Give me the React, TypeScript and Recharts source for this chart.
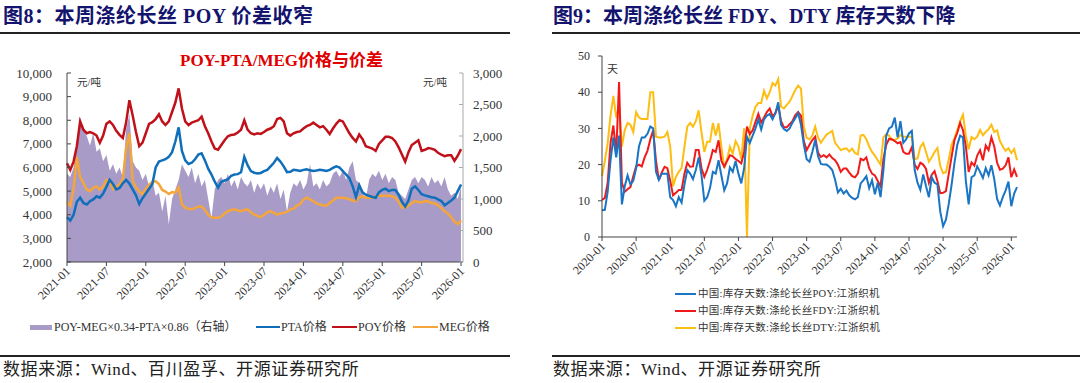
import React from 'react';
import { ComposedChart, LineChart, Line, Area, XAxis, YAxis } from 'recharts';

const SERIF = '"Liberation Serif", "Noto Sans CJK SC", serif';

// 图8：POY-PTA/MEG价格与价差，2021-01 起每半月一个点
const priceTicks = [0, 6, 12, 18, 24, 30, 36, 42, 48, 54, 60];
const priceTickLabels = ['2021-01', '2021-07', '2022-01', '2022-07', '2023-01', '2023-07', '2024-01', '2024-07', '2025-01', '2025-07', '2026-01'];
const priceLeftTicks = [2000, 3000, 4000, 5000, 6000, 7000, 8000, 9000, 10000];
const spreadTicks = [0, 500, 1000, 1500, 2000, 2500, 3000];

const poyPrice = [
  6180, 5900, 6250, 6900, 7950, 7600, 7450, 7500, 7450, 7350,
  7050, 7350, 7850, 7950, 7800, 7550, 7380, 7250, 7900, 8850,
  8200, 7500, 6900, 7050, 7450, 7850, 7920, 8050, 8250, 7950,
  7800, 7950, 8350, 8750, 9350, 8500, 7950, 7800, 7900, 7950,
  8000, 8150, 7750, 7450, 7100, 6800, 6750, 6950, 7150, 7320,
  7380, 7400, 7480, 7600, 8000, 7600, 7450, 7400, 7450, 7420,
  7500, 7600, 7650, 7750, 8050, 8100, 7950, 7450, 7350, 7450,
  7500, 7530, 7650, 7750, 7800, 7900, 7800, 7700, 7750, 7600,
  7420, 7650, 7850, 8000, 7950, 7700, 7450, 7250, 7100, 7400,
  7200, 6900, 6850, 6800, 6700, 7000, 7150, 7300, 7300, 7250,
  7100, 6850, 6550, 6250, 6650, 6950, 7050, 7150, 6700, 6750,
  6820, 6800, 6750, 6620, 6540, 6480, 6520, 6520, 6280, 6500,
  6780,
];
const ptaPrice = [
  3900, 3750, 4000, 4550, 4720, 4500, 4430, 4570, 4650, 4780,
  4720, 4900, 5180, 5480, 5300, 5070, 5130, 5330, 5480, 5320,
  5070, 4820, 4450, 4700, 4900, 5100, 5300, 6000, 6250, 6300,
  6350, 6450, 6650, 7100, 7700, 6700, 6300, 6150, 6200, 6350,
  6550, 6600, 6300, 5950, 5700, 5400, 5150, 5400, 5450, 5500,
  5650, 5700, 5720, 5800, 6450, 6100, 5850, 5780, 5750, 5770,
  5850, 5900, 6050, 6200, 6400, 6250, 6050, 5800, 5820, 5900,
  5880, 5850, 5900, 5920, 5880, 5850, 5870, 5900, 5880, 5850,
  5900, 5980, 6050, 6000, 5850, 5700, 5550, 5200, 4750, 5250,
  4950, 4850, 4800, 4750, 4720, 4950, 5050, 5100, 5000, 5050,
  5050, 4850, 4550, 4350, 4600, 5100, 5200, 5050, 4870, 4820,
  4780, 4740, 4720, 4650, 4580, 4400, 4500, 4600, 4720, 5000,
  5280,
];
const megPrice = [
  4550, 4380, 5100, 6450, 5600, 5350, 5070, 5000, 5140, 5200,
  5070, 5200, 5480, 5420, 5080, 5200, 5280, 5520, 6800, 7450,
  5450, 5150, 5000, 4860, 5100, 5270, 5400, 5420, 5300, 5050,
  4980, 4880, 4960, 4930, 5150, 4450, 4300, 4250, 4230, 4280,
  4350, 4350, 4200, 4000, 3880, 3870, 3870, 3930, 4050, 4150,
  4200, 4230, 4180, 4150, 4200, 4230, 4100, 4000, 3950, 3900,
  4000, 4100, 4150, 4080, 4000, 4050, 4080, 4120, 4230, 4250,
  4400, 4450, 4650, 4720, 4650, 4580, 4480, 4430, 4400, 4380,
  4500, 4600, 4720, 4720, 4720, 4700, 4650, 4600, 4580, 4750,
  4780, 4720, 4720, 4720, 4760, 4800, 4800, 4800, 4800, 4780,
  4720, 4550, 4300, 4320, 4380, 4500, 4580, 4540, 4520, 4580,
  4560, 4500, 4480, 4400, 4280, 4150, 4050, 3900, 3700, 3600,
  3750,
];
const spreadValue = [
  1400, 1350, 1500, 1900, 2300, 2100, 2000, 1850, 2050, 1750,
  1800, 1600, 1700, 1450, 1550, 1400, 1500, 1350, 2100, 2350,
  1600, 1500, 1450, 1300, 1400, 1200, 1300, 1050, 1100, 800,
  1050, 600, 1000, 1150, 1300, 1550, 1450, 1350, 1500, 1250,
  1400, 1200, 1300, 1000, 700, 1150, 1300, 1350, 1250, 1400,
  1200, 1300, 1150, 1350, 1250, 1200, 1300, 1100, 1250, 1150,
  1250, 1050, 1200, 1100, 1250, 1000, 1150, 800, 1100, 1250,
  1200, 1300, 1150, 1250, 1550, 1200, 1250, 1150, 1300, 1200,
  1250, 1400, 1450, 1350, 1450, 1300, 1500, 1600, 1300, 1250,
  1100, 1000, 1300, 1400, 1350, 1450, 1300, 1400, 1250, 1350,
  1300, 1100, 1050, 1000, 1150, 1300, 1350, 1250, 1350, 1300,
  1200, 1350, 1250, 1300, 1200, 1350, 1150, 1050, 1100, 1000,
  1200,
];

// 图9：涤纶长丝库存天数，2020-01 起每半月一个点
const stockTicks = [0, 6, 12, 18, 24, 30, 36, 42, 48, 54, 60, 66, 72];
const stockTickLabels = ['2020-01', '2020-07', '2021-01', '2021-07', '2022-01', '2022-07', '2023-01', '2023-07', '2024-01', '2024-07', '2025-01', '2025-07', '2026-01'];
const dayTicks = [0, 10, 20, 30, 40, 50];

const poyDays = [
  7.4, 7.5, 12.5, 21.2, 27.5, 22, 28, 9, 14, 17,
  14.5, 15.5, 19, 25, 27.5, 27.5, 28.5, 30.5, 30, 18,
  15.8, 17.5, 17.5, 17.5, 11, 10.2, 8.5, 11, 9.5, 14.5,
  18.5, 17.5, 16, 18.5, 22, 17, 10, 11, 13.5, 18,
  17.5, 21.2, 17, 12.9, 14.8, 19.2, 18, 21, 17.5, 14.8,
  19, 27.7, 26, 28, 30, 32.5, 29.7, 32.5, 33.5, 34,
  32.5, 34.2, 37.2, 31, 29.8, 29.3, 30, 31.6, 32.8, 34.2,
  31, 25.5, 21.5, 20.8, 23.5, 26.8, 22.4, 20.2, 20, 20,
  19.4, 18.5, 15.8, 12.3, 13.3, 12, 12.8, 11.5, 10.8, 10.4,
  11, 14.8, 15.7, 16.8, 13.5, 15.7, 11.8, 15, 11, 18.5,
  28, 30, 30.5, 33, 27.5, 32, 26, 27, 28.6, 29.3,
  18.5, 15, 13, 17.3, 14, 11, 16.5, 15, 14.5, 7,
  3, 4.8, 9.2, 14.5, 20.5, 25.5, 28, 27.5, 15.5, 9,
  16.5, 17, 19.5, 18, 16.3, 19, 17, 19.8, 16, 10.5,
  8.7, 11, 12.9, 15.3, 8.5, 12, 13.8,
];
const fdyDays = [
  10.2, 10.8, 15, 26, 30.8, 23, 42.8, 15, 12.5, 13.2,
  13.8, 16.8, 19.5, 20, 19.5, 22, 23.8, 27, 29.5, 21,
  15.7, 17.8, 19.4, 19, 15.5, 11.5, 12.2, 13, 13, 17.5,
  20.5, 19.4, 19.5, 24, 24, 19, 16.6, 18.5, 21, 24,
  23.5, 26.7, 21, 19.4, 21, 22.6, 22.3, 21.5, 21, 20.3,
  23.5, 30.5, 28.4, 29.5, 31.8, 34, 31.6, 33, 34.5, 35.5,
  33.3, 34.2, 36.3, 32, 30.3, 30.3, 31.2, 32, 33.7, 34.5,
  33.5, 26.5, 24, 25.5, 26.8, 27.7, 23.3, 22.1, 22.6, 22,
  22.8, 21.8, 21.2, 20, 18, 18.9, 18.9, 17.8, 16.8, 16.5,
  17.5, 21.6, 21.2, 22, 19, 17.5, 17, 15.5, 14, 21.5,
  25.5, 27.1, 27, 26.5, 25.9, 26.2, 23.5, 23, 23, 24.8,
  20, 18.8, 20.5, 20, 18.8, 15, 17.2, 18.2, 15.5, 12.1,
  12.2, 12.7, 17.5, 22.2, 26.8, 28.8, 31.5, 29.5, 25, 18,
  20.6, 19.7, 22.5, 24, 21.2, 25.3, 24, 27.5, 25, 20.5,
  18.6, 18.9, 19.8, 22, 16.5, 18.7, 16.6,
];
const dtyDays = [
  16.8, 21, 26, 33.5, 39, 33, 36, 25, 29.5, 31.5,
  31, 29, 34.5, 33, 32.6, 32.6, 32.6, 40, 40, 27.7,
  27.5, 27.5, 27.7, 29, 25, 14, 16.6, 18, 19, 24.9,
  30.5, 31.5, 30.5, 32, 35, 29, 23.5, 26.3, 26.3, 31.5,
  28, 31.4, 25, 19, 21.5, 24.9, 23, 26.5, 25, 21.5,
  30, 0, 30, 33.5, 36, 37, 37, 40.4, 38.3, 40,
  42.5, 41.8, 43.6, 36, 35.5, 36.5, 37.4, 39, 40.6, 41.8,
  41, 30.5, 27.4, 27, 28, 30.5, 27.5, 26, 27.2, 28.3,
  28.8, 29.3, 26, 25, 24, 24.3, 24.5, 23.6, 24.4, 23.2,
  22.8, 28, 28.2, 27, 25, 23.5, 22.5, 21.2, 20, 27.5,
  28.4, 28, 26.8, 26.8, 27.2, 28.2, 27.7, 27.7, 27.7, 27.7,
  21.5, 21.7, 24.9, 26, 23.5, 20.8, 22, 23.5, 24.6, 19.6,
  17.6, 17.9, 21.5, 25.5, 27.3, 29.6, 32, 33.8, 28, 24.2,
  27.6, 27, 27.7, 29.6, 28.1, 29, 29.8, 31, 29, 29.5,
  26.5, 25, 23.8, 24.5, 23.2, 24.3, 21.2,
];

const priceData = poyPrice.map((poy, i) => ({
  m: i * 0.5,
  poy,
  pta: ptaPrice[i],
  meg: megPrice[i],
  spread: spreadValue[i],
}));
const stockData = poyDays.map((poy, i) => ({ m: i * 0.5, poy, fdy: fdyDays[i], dty: dtyDays[i] }));

// 坐标轴刻度
const makeDateTick = (ticks: number[], labels: string[]) => (props: any) => {
  const { x, y, payload } = props;
  const label = labels[ticks.indexOf(payload.value)];
  const tx = x + 4;
  const ty = y + 10;
  return (
    <g>
      <line x1={x} x2={x} y1={y} y2={y + 4} stroke="#444" />
      <text x={tx} y={ty} textAnchor="end" fontSize={12} fill="#333" fontFamily={SERIF} transform={`rotate(-45 ${tx} ${ty})`}>
        {label}
      </text>
    </g>
  );
};
const PriceDateTick = makeDateTick(priceTicks, priceTickLabels);
const StockDateTick = makeDateTick(stockTicks, stockTickLabels);

const PriceLeftTick = (props: any) => {
  const { x, y, payload } = props;
  return (
    <g>
      <line x1={x} x2={x + 4} y1={y} y2={y} stroke="#444" />
      <text x={x - 15} y={y} dy="0.35em" textAnchor="end" fontSize={13} fill="#333" fontFamily={SERIF}>
        {payload.value.toLocaleString('en-US')}
      </text>
    </g>
  );
};
const SpreadTick = (props: any) => {
  const { x, y, payload } = props;
  return (
    <g>
      <line x1={x - 4} x2={x} y1={y} y2={y} stroke="#aaa" />
      <text x={x + 10} y={y} dy="0.35em" textAnchor="start" fontSize={13} fill="#333" fontFamily={SERIF}>
        {payload.value.toLocaleString('en-US')}
      </text>
    </g>
  );
};
const DayTick = (props: any) => {
  const { x, y, payload } = props;
  return (
    <g>
      <line x1={x - 4} x2={x} y1={y} y2={y} stroke="#444" />
      <text x={x - 12} y={y} dy="0.35em" textAnchor="end" fontSize={12} fill="#333" fontFamily={SERIF}>
        {payload.value}
      </text>
    </g>
  );
};

const abs = (left: number, top: number, extra: React.CSSProperties = {}): React.CSSProperties => ({
  position: 'absolute',
  left,
  top,
  whiteSpace: 'nowrap',
  ...extra,
});

export default function App() {
  return (
    <div style={{ position: 'absolute', left: 0, top: 0, width: 1080, height: 383, background: '#fff', overflow: 'hidden', fontFamily: SERIF }}>
      {/* 图8 */}
      <div style={abs(0, 0)}>
        <ComposedChart width={540} height={330} data={priceData} margin={{ top: 73, right: 0, bottom: 0, left: 0 }}>
          <XAxis dataKey="m" type="number" domain={[0, 60.3]} ticks={priceTicks} interval={0} height={68}
            tickSize={0} tickMargin={0} tickLine={false} axisLine={{ stroke: '#444' }} tick={PriceDateTick} />
          <YAxis yAxisId="left" width={67} domain={[2000, 10000]} ticks={priceLeftTicks} interval={0}
            tickSize={0} tickMargin={0} tickLine={false} axisLine={{ stroke: '#444' }} tick={PriceLeftTick} />
          <YAxis yAxisId="right" orientation="right" width={77} domain={[0, 3000]} ticks={spreadTicks} interval={0}
            tickSize={0} tickMargin={0} tickLine={false} axisLine={{ stroke: '#aaa' }} tick={SpreadTick} />
          <Area yAxisId="right" type="linear" dataKey="spread" fill="#a99bc7" fillOpacity={1} stroke="none" isAnimationActive={false} />
          <Line yAxisId="left" type="linear" dataKey="meg" stroke="#f4a63c" strokeWidth={2.5} dot={false} isAnimationActive={false} />
          <Line yAxisId="left" type="linear" dataKey="pta" stroke="#0f6fba" strokeWidth={2.5} dot={false} isAnimationActive={false} />
          <Line yAxisId="left" type="linear" dataKey="poy" stroke="#c0111a" strokeWidth={2.5} dot={false} isAnimationActive={false} />
        </ComposedChart>
      </div>

      {/* 图9 */}
      <div style={abs(540, 0)}>
        <LineChart width={540} height={330} data={stockData} margin={{ top: 56, right: 63, bottom: 0, left: 0 }}>
          <XAxis dataKey="m" type="number" domain={[0, 73]} ticks={stockTicks} interval={0} height={93}
            tickSize={0} tickMargin={0} tickLine={false} axisLine={{ stroke: '#444' }} tick={StockDateTick} />
          <YAxis width={62} domain={[0, 50]} ticks={dayTicks} interval={0}
            tickSize={0} tickMargin={0} tickLine={false} axisLine={{ stroke: '#444' }} tick={DayTick} />
          <Line type="linear" dataKey="dty" stroke="#fdbd12" strokeWidth={2} dot={false} isAnimationActive={false} />
          <Line type="linear" dataKey="fdy" stroke="#f01a1a" strokeWidth={2} dot={false} isAnimationActive={false} />
          <Line type="linear" dataKey="poy" stroke="#1a75c4" strokeWidth={2} dot={false} isAnimationActive={false} />
        </LineChart>
      </div>

      {/* 标题与分隔线 */}
      <div style={abs(3, 5, { fontSize: 20, fontWeight: 'bold', color: '#14146e', lineHeight: '22px', letterSpacing: 0.5 })}>图8：本周涤纶长丝 POY 价差收窄</div>
      <div style={abs(553, 5, { fontSize: 20, fontWeight: 'bold', color: '#14146e', lineHeight: '22px' })}>图9：本周涤纶长丝 FDY、DTY 库存天数下降</div>
      <div style={abs(0, 32, { width: 510, height: 2, background: '#222' })} />
      <div style={abs(552, 32, { width: 528, height: 2, background: '#222' })} />

      <div style={abs(180, 51, { fontSize: 17, fontWeight: 'bold', color: '#e00000', lineHeight: '20px' })}>POY-PTA/MEG价格与价差</div>
      <div style={abs(77, 77, { fontSize: 10.5, color: '#333', lineHeight: '12px' })}>元/吨</div>
      <div style={abs(423, 77, { fontSize: 10.5, color: '#333', lineHeight: '12px' })}>元/吨</div>
      <div style={abs(607, 63, { fontSize: 11, color: '#333', lineHeight: '12px' })}>天</div>

      {/* 图8 图例 */}
      <div style={abs(30, 325, { width: 22, height: 5, background: '#a99bc7' })} />
      <div style={abs(54, 320, { fontSize: 12, color: '#333', lineHeight: '14px' })}>POY-MEG×0.34-PTA×0.86（右轴）</div>
      <div style={abs(256, 326, { width: 24, height: 2, background: '#0f6fba' })} />
      <div style={abs(281, 320, { fontSize: 12, color: '#333', lineHeight: '14px' })}>PTA价格</div>
      <div style={abs(332, 326, { width: 25, height: 2, background: '#c0111a' })} />
      <div style={abs(358, 320, { fontSize: 12, color: '#333', lineHeight: '14px' })}>POY价格</div>
      <div style={abs(413, 326, { width: 25, height: 2, background: '#f4a63c' })} />
      <div style={abs(439, 320, { fontSize: 12, color: '#333', lineHeight: '14px' })}>MEG价格</div>

      {/* 图9 图例 */}
      <div style={abs(675, 293, { width: 21, height: 2, background: '#1a75c4' })} />
      <div style={abs(698, 288, { fontSize: 10.5, color: '#333', lineHeight: '12px', letterSpacing: 0.3 })}>中国:库存天数:涤纶长丝POY:江浙织机</div>
      <div style={abs(675, 310, { width: 21, height: 2, background: '#f01a1a' })} />
      <div style={abs(698, 305, { fontSize: 10.5, color: '#333', lineHeight: '12px', letterSpacing: 0.3 })}>中国:库存天数:涤纶长丝FDY:江浙织机</div>
      <div style={abs(675, 327, { width: 21, height: 2, background: '#fdbd12' })} />
      <div style={abs(698, 322, { fontSize: 10.5, color: '#333', lineHeight: '12px', letterSpacing: 0.3 })}>中国:库存天数:涤纶长丝DTY:江浙织机</div>

      {/* 数据来源 */}
      <div style={abs(0, 355, { width: 510, height: 1.5, background: '#222' })} />
      <div style={abs(552, 355, { width: 528, height: 1.5, background: '#222' })} />
      <div style={abs(3, 361, { fontSize: 17, color: '#222', lineHeight: '18px', letterSpacing: 0.6 })}>数据来源：Wind、百川盈孚、开源证券研究所</div>
      <div style={abs(553, 361, { fontSize: 17, color: '#222', lineHeight: '18px', letterSpacing: 0.6 })}>数据来源：Wind、开源证券研究所</div>
    </div>
  );
}
